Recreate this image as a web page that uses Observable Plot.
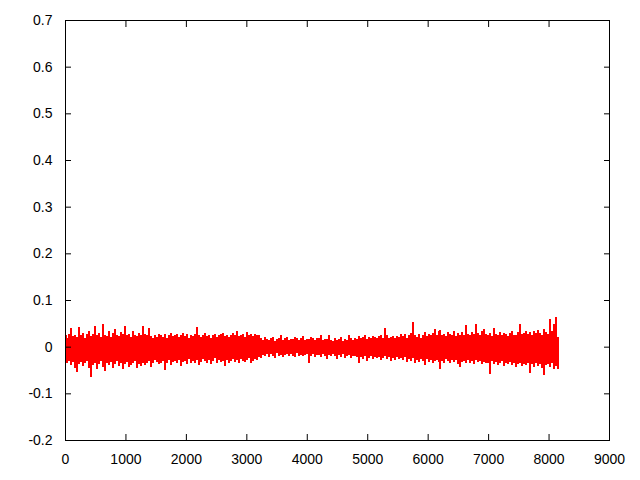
<!DOCTYPE html>
<html>
<head>
<meta charset="utf-8">
<script src="https://cdn.jsdelivr.net/npm/d3@7"></script>
<script src="https://cdn.jsdelivr.net/npm/@observablehq/plot@0.6"></script>
<style>
  html, body { margin: 0; padding: 0; background: #fff; }
  #chart { width: 640px; height: 480px; }
</style>
</head>
<body>
<div id="chart"></div>
<script>
// Sample spacing (x units) between envelope columns
const step = 33;

// Upper envelope of the signal, per column (thousandths)
const hiMilli = [
  24,18,28,40,22,26,20,42,25,30,19,27,33,22,28,45,24,30,21,48,26,23,34,20,29,38,25,22,31,27,45,24,28,20,33,26,22,30,25,44,28,24,
  40,22,18,25,20,27,24,21,28,19,26,30,22,25,28,20,24,29,23,27,18,25,22,28,42,26,20,24,30,22,26,19,25,28,21,24,27,30,22,26,20,24,
  30,24,33,22,26,28,20,31,25,28,22,27,26,24,18,15,20,16,14,18,21,13,17,19,24,15,18,20,14,17,16,21,19,15,18,22,14,17,16,20,18,15,19,
  18,26,14,16,17,26,15,12,18,14,16,20,13,17,15,24,18,14,19,16,22,18,20,24,17,21,19,23,20,18,22,25,19,39,24,18,20,22,19,23,21,27,
  22,28,18,25,30,53,24,20,27,19,26,31,22,28,24,30,37,26,33,35,24,28,22,32,27,25,34,23,29,26,31,24,47,28,25,32,27,49,30,26,33,38,28,
  26,30,22,39,28,25,32,24,30,27,22,29,33,26,24,31,49,28,30,34,27,31,25,33,29,35,30,26,37,31,28,59,34,49,63,20
];

// Lower envelope of the signal, per column (thousandths)
const loMilli = [
  -28,-35,-30,-40,-33,-45,-54,-38,-32,-42,-36,-30,-45,-66,-40,-34,-48,-38,-30,-44,-52,-36,-40,-33,-46,-38,-30,-42,-35,-48,-38,-32,-44,-40,-36,-30,-45,-38,-42,-34,-40,-36,
  -30,-44,-36,-28,-32,-38,-34,-30,-50,-35,-28,-40,-33,-30,-36,-28,-42,-32,-30,-38,-26,-34,-30,-36,-28,-40,-32,-26,-30,-35,-28,-38,-30,-25,-34,-28,-32,-30,-41,-28,-34,-30,
  -26,-32,-28,-34,-26,-30,-33,-28,-24,-36,-30,-26,-28,-22,-25,-18,-20,-16,-22,-15,-19,-24,-14,-20,-17,-22,-18,-15,-21,-16,-20,-23,-14,-19,-17,-21,-18,-16,-36,-20,-15,-22,-18,
  -18,-22,-16,-20,-26,-17,-21,-15,-19,-27,-18,-22,-16,-24,-20,-18,-25,-21,-19,-23,-36,-22,-26,-20,-30,-24,-21,-27,-23,-25,-22,-28,-24,-21,-26,-23,-30,-25,-28,-22,-26,-24,
  -28,-22,-32,-26,-30,-24,-35,-28,-33,-26,-31,-40,-27,-33,-29,-36,-30,-28,-32,-47,-30,-34,-27,-31,-36,-29,-33,-28,-38,-43,-32,-30,-36,-28,-34,-31,-37,-29,-33,-30,-38,-32,-35,
  -35,-58,-30,-38,-33,-40,-36,-31,-42,-35,-38,-33,-40,-36,-44,-38,-34,-42,-37,-40,-35,-56,-38,-43,-36,-41,-38,-45,-61,-40,-37,-44,-36,-48,-42,-47
];

const xTicks = [0, 1000, 2000, 3000, 4000, 5000, 6000, 7000, 8000, 9000];
const yTicks = [-0.2, -0.1, 0, 0.1, 0.2, 0.3, 0.4, 0.5, 0.6, 0.7];

const data = hiMilli.map((h, i) => ({x: i * step, hi: h / 1000, lo: loMilli[i] / 1000}));

const chart = Plot.plot({
  width: 640,
  height: 480,
  marginLeft: 65,
  marginRight: 31,
  marginTop: 20,
  marginBottom: 40,
  style: {fontFamily: "'Liberation Sans', Arial, sans-serif", fontSize: "14px", color: "black", background: "white"},
  x: {domain: [0, 9000]},
  y: {domain: [-0.2, 0.7]},
  marks: [
    Plot.ruleX(data, {x: "x", y1: "lo", y2: "hi", stroke: "#ff0000", strokeWidth: 2, shapeRendering: "crispEdges"}),
    Plot.axisX({anchor: "bottom", ticks: xTicks, tickSize: -6, tickPadding: 20, tickFormat: d => String(d), label: null}),
    Plot.axisX({anchor: "top", ticks: xTicks, tickSize: -6, tickFormat: () => "", label: null}),
    Plot.axisY({anchor: "left", ticks: yTicks, tickSize: -6, tickPadding: 19, tickFormat: d => String(d), label: null}),
    Plot.axisY({anchor: "right", ticks: yTicks, tickSize: -6, tickFormat: () => "", label: null}),
    Plot.frame({stroke: "black"})
  ]
});
document.getElementById("chart").appendChild(chart);
</script>
</body>
</html>
